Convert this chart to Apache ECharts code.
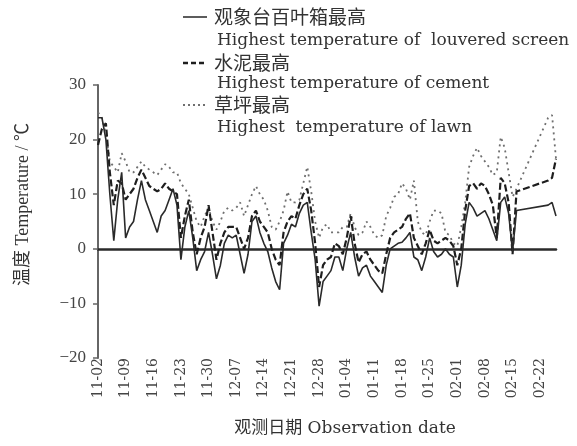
<!DOCTYPE html>
<html>
<head>
<meta charset="utf-8">
<script src="https://cdn.jsdelivr.net/npm/echarts@6/dist/echarts.min.js"></script>
<style>
  html, body { margin: 0; padding: 0; background: #fff; }
  #chart { width: 577px; height: 446px; }
</style>
</head>
<body>
<div id="chart"></div>
<script>
// Observation days: 2 Nov to 26 Feb (one category per day)
const dates = [];
(function () {
  const d = new Date(2010, 10, 2);
  const end = new Date(2011, 1, 26);
  while (d <= end) {
    const mm = String(d.getMonth() + 1).padStart(2, '0');
    const dd = String(d.getDate()).padStart(2, '0');
    dates.push(mm + '-' + dd);
    d.setDate(d.getDate() + 1);
  }
})();

// Daily maximum temperature (°C); null = no observation (line bridges the gap)
const louveredMax = [
  24, 24, 20, 10, 1.5, 9, 14, 2, 4, 5,
  9, 12.5, 9, 7, 5, 3, 6, 7, 9, 11,
  8, -2, 4, 7, 2, -4, -2, -0.5, 3, -1,
  -5.5, -3, 1, 2.5, 2, 2.5, -1, -4.5, -1, 5,
  6, 3, 1, -0.5, -3.5, -6, -7.5, 1, 2.5, 4.5,
  4, 6.5, 8, 8.5, 3, -2, -10.5, -6, -5, -4,
  -1.5, -1.5, -4, 0, 3, -1.5, -5, -3.5, -3, -5,
  -6, -7, -8, -3, 0, 0.5, 1, 1.2, 2, 3,
  -1.5, -2, -4, -1.5, 2, -0.5, -1.5, -1, 0, -1,
  -1.5, -7, -3, 4.5, 8.5, 7.5, 6, 6.5, 7, 5.5,
  3.5, 1.5, 8.5, 9.5, 6.5, -0.5, 7, null, null, null,
  null, null, null, null, 8, 8.5, 6
];
const cementMax = [
  19, 22, 23, 14, 8, 12.5, 12, 9, 10, 11,
  13, 14.5, 13, 11.5, 11, 10.5, 11, 12, 11, 10.5,
  10, 2, 6, 9, 3, -1, 2, 4, 8, 3,
  -2, 1, 3, 4, 4, 4, 2, 0, 2, 6,
  7, 5, 4, 3, 0, -2, -3, 3, 5, 6,
  5.5, 8, 10, 11, 7, 1, -7, -3, -2, -1.5,
  1, 0.5, -1, 2, 6, 1, -2.5, -1, -0.5, -2,
  -3, -4, -4.5, -1, 2, 3, 3.5, 4, 5.5, 6.5,
  2, 0.5, -1, 1, 3.5, 1.5, 1, 1.5, 2, 1.5,
  0.5, -3, 0, 7, 11.5, 12, 11, 12, 11.5, 10,
  8, 2, 13, 12, 8.5, -1, 10.5, null, null, null,
  null, null, null, null, 12.5, 13, 16.5
];
const lawnMax = [
  25, 24, 21, 16, 15, 14, 17.5, 16, 14, 14,
  15, 16, 15, 14.5, 14, 13.5, 14.5, 15.5, 15, 14,
  14, 12, 11, 10, 7.5, 5, 4, 6, 7.5, 5,
  3.5, 5, 7, 7.5, 7, 7.5, 8.5, 6, 8, 10,
  11.5, 10, 9, 7, 4, 3.5, 5, 7, 10.5, 8.5,
  8.5, 9, 12, 15, 10.5, 5, 2, 4, 4.5, 3,
  3, 3, 4, 4, 6.5, 4, 2.5, 3, 5, 4,
  2.5, 2, 2.5, 6, 7.5, 9.5, 10, 12, 11, 9,
  12.5, 5, 3, 2.5, 5, 7, 7, 6.5, 3, 2.5,
  1, 0.5, 4, 8.5, 15, 17, 18.5, 17, 16, 15,
  13.5, 14, 20.5, 18.5, 14, 9.5, 11, null, null, null,
  null, null, null, null, 24, 24.5, 16.5
];

// Axis settings
const yMin = -20, yMax = 30, yStep = 10;
const labelEvery = 7;

const serif = '"Liberation Serif", "Times New Roman", serif';
const wideSerif = '"DejaVu Serif", "Liberation Serif", serif';
const cjk = '"Noto Sans CJK SC", sans-serif';
const ink = '#333';

const chart = echarts.init(document.getElementById('chart'), null, { renderer: 'canvas' });

chart.setOption({
  animation: false,
  backgroundColor: '#fff',
  grid: { left: 98, right: 21, top: 85, bottom: 88, containLabel: false },
  xAxis: [
    {
      // zero line across the plot
      type: 'category',
      data: dates,
      boundaryGap: false,
      axisLine: { onZero: true, lineStyle: { color: '#2a2a2a', width: 2.5 } },
      axisTick: { show: false },
      axisLabel: { show: false },
      splitLine: { show: false }
    },
    {
      // date labels along the bottom
      type: 'category',
      data: dates,
      boundaryGap: false,
      position: 'bottom',
      axisLine: { show: false, onZero: false },
      axisTick: { show: false },
      splitLine: { show: false },
      axisLabel: {
        rotate: 90,
        interval: labelEvery - 1,
        margin: 0,
        color: '#444',
        fontFamily: wideSerif,
        fontSize: 14
      },
      name: '观测日期 Observation date',
      nameLocation: 'middle',
      nameGap: 62,
      nameTextStyle: {
        color: ink,
        fontFamily: '"DejaVu Serif", "Noto Sans CJK SC", serif',
        fontSize: 17,
        padding: [0, 0, 0, 36]
      }
    }
  ],
  yAxis: {
    type: 'value',
    min: yMin,
    max: yMax,
    interval: yStep,
    axisLine: { show: true, lineStyle: { color: '#666', width: 2 } },
    axisTick: { show: true, inside: false, length: 5, lineStyle: { color: '#666', width: 1.5 } },
    splitLine: { show: false },
    axisLabel: {
      margin: 12,
      color: '#444',
      fontFamily: serif,
      fontSize: 17,
      formatter: function (v) { return String(v).replace('-', '\u2212'); }
    },
    name: '温度 Temperature / ℃',
    nameLocation: 'middle',
    nameGap: 66,
    nameTextStyle: {
      color: ink,
      fontFamily: '"Liberation Serif", "Noto Sans CJK SC", serif',
      fontSize: 18,
      padding: [0, 0, 0, 34]
    }
  },
  series: [
    {
      name: '草坪最高',
      type: 'line',
      data: lawnMax,
      showSymbol: false,
      connectNulls: true,
      lineStyle: { color: '#6f6f6f', width: 1.8, type: [2, 4] },
      z: 2
    },
    {
      name: '水泥最高',
      type: 'line',
      data: cementMax,
      showSymbol: false,
      connectNulls: true,
      lineStyle: { color: '#1e1e1e', width: 2.2, type: [7, 3] },
      z: 3
    },
    {
      name: '观象台百叶箱最高',
      type: 'line',
      data: louveredMax,
      showSymbol: false,
      connectNulls: true,
      lineStyle: { color: '#2a2a2a', width: 1.6, type: 'solid' },
      z: 4
    }
  ],
  graphic: [
    // key: three line samples with bilingual captions
    { type: 'line', shape: { x1: 183, y1: 17, x2: 207, y2: 17 }, style: { stroke: ink, lineWidth: 1.6 } },
    { type: 'text', x: 214, y: 17, style: { text: '观象台百叶箱最高', font: '19px ' + cjk, fill: ink, verticalAlign: 'middle' } },
    { type: 'text', x: 217, y: 41, style: { text: 'Highest temperature of  louvered screen', font: '17px ' + wideSerif, fill: ink, verticalAlign: 'middle' } },
    { type: 'line', shape: { x1: 183, y1: 63, x2: 207, y2: 63 }, style: { stroke: '#1e1e1e', lineWidth: 2.4, lineDash: [5, 3] } },
    { type: 'text', x: 214, y: 63, style: { text: '水泥最高', font: '19px ' + cjk, fill: ink, verticalAlign: 'middle' } },
    { type: 'text', x: 217, y: 84, style: { text: 'Highest temperature of cement', font: '17px ' + wideSerif, fill: ink, verticalAlign: 'middle' } },
    { type: 'line', shape: { x1: 183, y1: 105, x2: 207, y2: 105 }, style: { stroke: '#6f6f6f', lineWidth: 1.8, lineDash: [2, 3] } },
    { type: 'text', x: 214, y: 105, style: { text: '草坪最高', font: '19px ' + cjk, fill: ink, verticalAlign: 'middle' } },
    { type: 'text', x: 217, y: 128, style: { text: 'Highest  temperature of lawn', font: '17px ' + wideSerif, fill: ink, verticalAlign: 'middle' } }
  ]
});
</script>
</body>
</html>
